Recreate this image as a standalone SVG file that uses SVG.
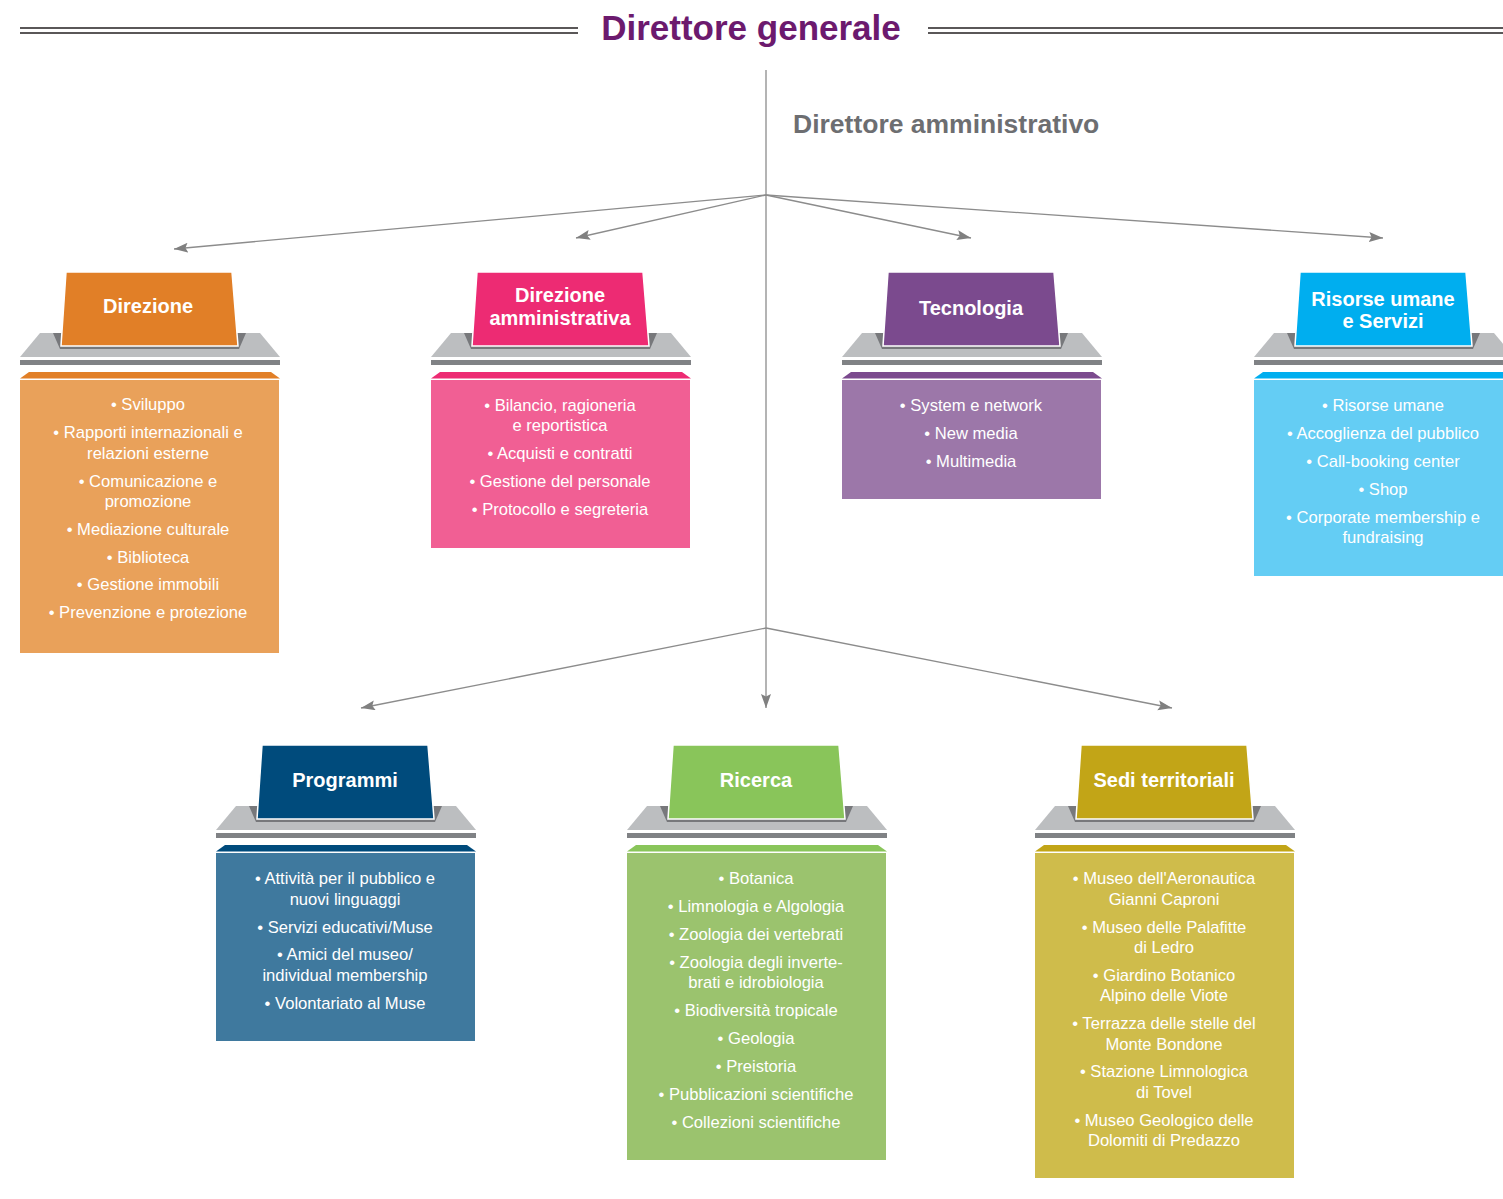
<svg xmlns="http://www.w3.org/2000/svg" xmlns:xlink="http://www.w3.org/1999/xlink" width="1503" height="1199" viewBox="0 0 1503 1199">
<style>
  .title{font-family:"Liberation Sans",Arial,sans-serif;font-weight:bold;font-size:35px;fill:#6c1a6e;text-anchor:middle}
  .sub{font-family:"Liberation Sans",Arial,sans-serif;font-weight:bold;font-size:26.5px;fill:#6d6e71;text-anchor:start}
  .hd{font-family:"Liberation Sans",Arial,sans-serif;font-weight:bold;font-size:20px;fill:#ffffff;text-anchor:middle}
  .it{font-family:"Liberation Sans",Arial,sans-serif;font-size:16.6px;fill:#ffffff;text-anchor:middle}
  .rule{stroke:#231f20;stroke-width:1.3;fill:none}
  .conn{stroke:#8c8c8c;stroke-width:1.3;fill:none;marker-end:url(#arr)}
  .tab{stroke:#ffffff;stroke-width:1.5}
</style>
<defs>
  <marker id="arr" markerUnits="userSpaceOnUse" markerWidth="16" markerHeight="12" refX="14" refY="5" orient="auto">
    <path d="M0,0 L14,5 L0,10 L2.5,5 z" fill="#808080"/>
  </marker>
  <g id="tray">
    <polygon points="20,333 240,333 260,357 0,357" fill="#bcbec0"/>
    <polygon points="33,333 226,333 219,349 40,349" fill="#77787b"/>
    <rect x="0" y="360" width="260" height="5" fill="#808285"/>
  </g>
</defs>
<rect width="1503" height="1199" fill="#ffffff"/>

<g id="header">
  <line class="rule" x1="20" y1="28" x2="578" y2="28"/>
  <line class="rule" x1="20" y1="33" x2="578" y2="33"/>
  <line class="rule" x1="928" y1="28" x2="1503" y2="28"/>
  <line class="rule" x1="928" y1="33" x2="1503" y2="33"/>
  <text class="title" x="751" y="40">Direttore generale</text>
  <text class="sub" x="793" y="133">Direttore amministrativo</text>
</g>

<g id="connectors">
  <line x1="766" y1="70" x2="766" y2="628" stroke="#8c8c8c" stroke-width="1.3"/>
  <line class="conn" x1="766" y1="628" x2="766" y2="708"/>
  <line class="conn" x1="766" y1="195" x2="174" y2="249"/>
  <line class="conn" x1="766" y1="195" x2="576" y2="238"/>
  <line class="conn" x1="766" y1="195" x2="971" y2="238"/>
  <line class="conn" x1="766" y1="195" x2="1383" y2="238"/>
  <line class="conn" x1="766" y1="628" x2="361" y2="708"/>
  <line class="conn" x1="766" y1="628" x2="1172" y2="708"/>
</g>

<g id="node-direzione" transform="translate(20,0)">
  <use xlink:href="#tray"/>
  <polygon class="tab" points="46,272 212,272 218,346 41,346" fill="#e17f27"/>
  <polygon points="9,372 251,372 260,378.5 0,378.5" fill="#e17f27"/>
  <rect x="0" y="380" width="259" height="273" fill="#e9a15a"/>
  <text class="hd" x="128" y="313">Direzione</text>
  <text class="it" x="128" y="410">• Sviluppo</text>
  <text class="it" x="128" y="438">• Rapporti internazionali e</text>
  <text class="it" x="128" y="459">relazioni esterne</text>
  <text class="it" x="128" y="487">• Comunicazione e</text>
  <text class="it" x="128" y="507">promozione</text>
  <text class="it" x="128" y="535">• Mediazione culturale</text>
  <text class="it" x="128" y="563">• Biblioteca</text>
  <text class="it" x="128" y="590">• Gestione immobili</text>
  <text class="it" x="128" y="618">• Prevenzione e protezione</text>
</g>

<g id="node-direzione-amministrativa" transform="translate(431,0)">
  <use xlink:href="#tray"/>
  <polygon class="tab" points="46,272 212,272 218,346 41,346" fill="#ed2b73"/>
  <polygon points="9,372 251,372 260,378.5 0,378.5" fill="#ed2b73"/>
  <rect x="0" y="380" width="259" height="168" fill="#f15f94"/>
  <text class="hd" x="129" y="302">Direzione</text>
  <text class="hd" x="129" y="325">amministrativa</text>
  <text class="it" x="129" y="411">• Bilancio, ragioneria</text>
  <text class="it" x="129" y="431">e reportistica</text>
  <text class="it" x="129" y="459">• Acquisti e contratti</text>
  <text class="it" x="129" y="487">• Gestione del personale</text>
  <text class="it" x="129" y="515">• Protocollo e segreteria</text>
</g>

<g id="node-tecnologia" transform="translate(842,0)">
  <use xlink:href="#tray"/>
  <polygon class="tab" points="46,272 212,272 218,346 41,346" fill="#7b4a8e"/>
  <polygon points="9,372 251,372 260,378.5 0,378.5" fill="#7b4a8e"/>
  <rect x="0" y="380" width="259" height="119" fill="#9c77a9"/>
  <text class="hd" x="129" y="315">Tecnologia</text>
  <text class="it" x="129" y="411">• System e network</text>
  <text class="it" x="129" y="439">• New media</text>
  <text class="it" x="129" y="467">• Multimedia</text>
</g>

<g id="node-risorse-umane" transform="translate(1254,0)">
  <use xlink:href="#tray"/>
  <polygon class="tab" points="46,272 212,272 218,346 41,346" fill="#00aeef"/>
  <polygon points="9,372 251,372 260,378.5 0,378.5" fill="#00aeef"/>
  <rect x="0" y="380" width="259" height="196" fill="#64cdf4"/>
  <text class="hd" x="129" y="306">Risorse umane</text>
  <text class="hd" x="129" y="328">e Servizi</text>
  <text class="it" x="129" y="411">• Risorse umane</text>
  <text class="it" x="129" y="439">• Accoglienza del pubblico</text>
  <text class="it" x="129" y="467">• Call-booking center</text>
  <text class="it" x="129" y="495">• Shop</text>
  <text class="it" x="129" y="523">• Corporate membership e</text>
  <text class="it" x="129" y="543">fundraising</text>
</g>

<g id="node-programmi" transform="translate(216,473)">
  <use xlink:href="#tray"/>
  <polygon class="tab" points="46,272 212,272 218,346 41,346" fill="#004b7c"/>
  <polygon points="9,372 251,372 260,378.5 0,378.5" fill="#004b7c"/>
  <rect x="0" y="380" width="259" height="188" fill="#3f799e"/>
  <text class="hd" x="129" y="314">Programmi</text>
  <text class="it" x="129" y="411">• Attività per il pubblico e</text>
  <text class="it" x="129" y="432">nuovi linguaggi</text>
  <text class="it" x="129" y="460">• Servizi educativi/Muse</text>
  <text class="it" x="129" y="487">• Amici del museo/</text>
  <text class="it" x="129" y="508">individual membership</text>
  <text class="it" x="129" y="536">• Volontariato al Muse</text>
</g>

<g id="node-ricerca" transform="translate(627,473)">
  <use xlink:href="#tray"/>
  <polygon class="tab" points="46,272 212,272 218,346 41,346" fill="#89c55a"/>
  <polygon points="9,372 251,372 260,378.5 0,378.5" fill="#89c55a"/>
  <rect x="0" y="380" width="259" height="307" fill="#9bc36e"/>
  <text class="hd" x="129" y="314">Ricerca</text>
  <text class="it" x="129" y="411">• Botanica</text>
  <text class="it" x="129" y="439">• Limnologia e Algologia</text>
  <text class="it" x="129" y="467">• Zoologia dei vertebrati</text>
  <text class="it" x="129" y="495">• Zoologia degli inverte-</text>
  <text class="it" x="129" y="515">brati e idrobiologia</text>
  <text class="it" x="129" y="543">• Biodiversità tropicale</text>
  <text class="it" x="129" y="571">• Geologia</text>
  <text class="it" x="129" y="599">• Preistoria</text>
  <text class="it" x="129" y="627">• Pubblicazioni scientifiche</text>
  <text class="it" x="129" y="655">• Collezioni scientifiche</text>
</g>

<g id="node-sedi-territoriali" transform="translate(1035,473)">
  <use xlink:href="#tray"/>
  <polygon class="tab" points="46,272 212,272 218,346 41,346" fill="#c2a517"/>
  <polygon points="9,372 251,372 260,378.5 0,378.5" fill="#c2a517"/>
  <rect x="0" y="380" width="259" height="325" fill="#cfbc4b"/>
  <text class="hd" x="129" y="314">Sedi territoriali</text>
  <text class="it" x="129" y="411">• Museo dell'Aeronautica</text>
  <text class="it" x="129" y="432">Gianni Caproni</text>
  <text class="it" x="129" y="460">• Museo delle Palafitte</text>
  <text class="it" x="129" y="480">di Ledro</text>
  <text class="it" x="129" y="508">• Giardino Botanico</text>
  <text class="it" x="129" y="528">Alpino delle Viote</text>
  <text class="it" x="129" y="556">• Terrazza delle stelle del</text>
  <text class="it" x="129" y="577">Monte Bondone</text>
  <text class="it" x="129" y="604">• Stazione Limnologica</text>
  <text class="it" x="129" y="625">di Tovel</text>
  <text class="it" x="129" y="653">• Museo Geologico delle</text>
  <text class="it" x="129" y="673">Dolomiti di Predazzo</text>
</g>
</svg>
